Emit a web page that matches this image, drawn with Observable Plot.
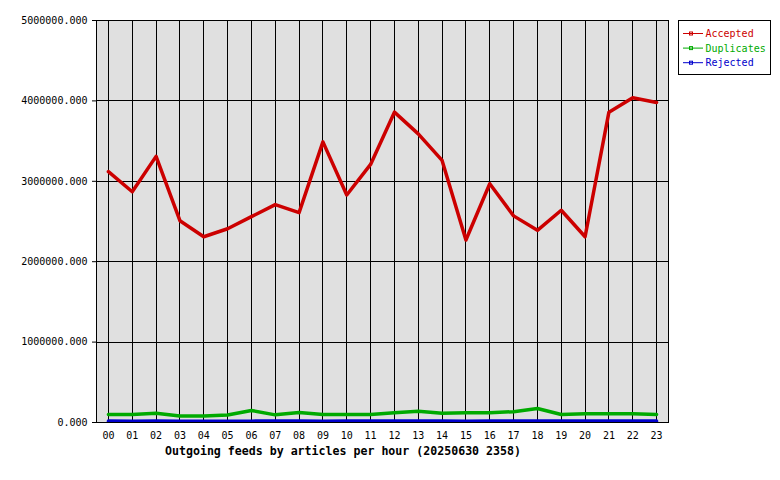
<!DOCTYPE html>
<html>
<head>
<meta charset="utf-8">
<script src="https://cdn.jsdelivr.net/npm/d3@7"></script>
<script src="https://cdn.jsdelivr.net/npm/@observablehq/plot@0.6"></script>
<style>
  html, body { margin: 0; padding: 0; background: #fff; }
  #chart { width: 780px; height: 480px; }
</style>
</head>
<body>
<div id="chart"></div>
<script>
const hours = ["00","01","02","03","04","05","06","07","08","09","10","11","12","13","14","15","16","17","18","19","20","21","22","23"];
const accepted = [3120000,2870000,3310000,2510000,2310000,2410000,2560000,2710000,2610000,3490000,2830000,3210000,3860000,3590000,3260000,2270000,2970000,2570000,2390000,2640000,2310000,3860000,4040000,3980000];
const duplicates = [100000,100000,115000,80000,80000,93000,150000,95000,125000,100000,100000,100000,120000,140000,115000,122000,122000,135000,175000,100000,110000,110000,110000,100000];
const rejected = [18000,17000,18000,16000,15000,16000,17000,18000,18000,17000,18000,18000,19000,18000,18000,17000,18000,18000,19000,18000,18000,18000,19000,18000];
const yTicks = [0,1000000,2000000,3000000,4000000,5000000];
const seriesNames = ["Accepted","Duplicates","Rejected"];
const seriesColors = ["#cc0000","#00aa00","#0000cc"];
const titleText = "Outgoing feeds by articles per hour (20250630 2358)";

const hourIdx = hours.map((h, i) => i);
const rows = [];
[accepted, duplicates, rejected].forEach((vals, si) => {
  vals.forEach((v, i) => rows.push({hour: i, value: v, series: seriesNames[si]}));
});

const font = "'DejaVu Sans Mono', 'Liberation Mono', monospace";

const plot = Plot.plot({
  width: 780,
  height: 480,
  marginLeft: 96,
  marginRight: 112,
  marginTop: 20,
  marginBottom: 58,
  style: {fontFamily: font, fontSize: "10px", color: "#000", background: "#fff", overflow: "visible"},
  x: {type: "linear", domain: [-0.5, 23.5], label: null},
  y: {domain: [0, 5000000], label: null},
  color: {domain: seriesNames, range: seriesColors},
  marks: [
    Plot.frame({fill: "#e0e0e0"}),
    Plot.gridX(hourIdx, {stroke: "#000", strokeOpacity: 1, strokeWidth: 1, shapeRendering: "crispEdges"}),
    Plot.gridY(yTicks, {stroke: "#000", strokeOpacity: 1, strokeWidth: 1, shapeRendering: "crispEdges"}),
    Plot.line(rows, {x: "hour", y: "value", z: "series", stroke: "series", strokeWidth: 3.5, strokeLinejoin: "round", clip: true}),
    Plot.frame({stroke: "#000", strokeWidth: 1, shapeRendering: "crispEdges"}),
    Plot.axisX({ticks: hourIdx, tickFormat: i => hours[i], tickSize: 0, tickPadding: 9, fontSize: 10, fill: "#000"}),
    Plot.axisY({ticks: yTicks, tickFormat: d => d.toFixed(3), tickSize: 4, tickPadding: 5, fill: "#000", stroke: "#000"})
  ]
});

const svg = d3.select(plot);
svg.append("text")
  .attr("x", 343).attr("y", 455)
  .attr("text-anchor", "middle")
  .attr("font-family", font)
  .attr("font-weight", "bold")
  .attr("font-size", "11.6px")
  .attr("fill", "#000")
  .text(titleText);

const lg = svg.append("g").attr("text-anchor", "start");
lg.append("rect").attr("x", 678.5).attr("y", 20.5).attr("width", 92).attr("height", 54)
  .attr("fill", "#fff").attr("stroke", "#000");
seriesNames.forEach((name, i) => {
  const yy = 33.5 + i * 14.6;
  lg.append("line").attr("x1", 683).attr("x2", 703).attr("y1", yy).attr("y2", yy)
    .attr("stroke", seriesColors[i]).attr("stroke-width", 1);
  lg.append("rect").attr("x", 689.5).attr("y", yy - 1.5).attr("width", 3).attr("height", 3)
    .attr("fill", "none").attr("stroke", seriesColors[i]).attr("stroke-width", 1);
  lg.append("text").attr("x", 705.5).attr("y", yy).attr("dy", "0.35em")
    .attr("text-anchor", "start")
    .attr("font-family", font).attr("font-size", "10px").attr("fill", seriesColors[i])
    .text(name);
});

document.getElementById("chart").appendChild(plot);
</script>
</body>
</html>
